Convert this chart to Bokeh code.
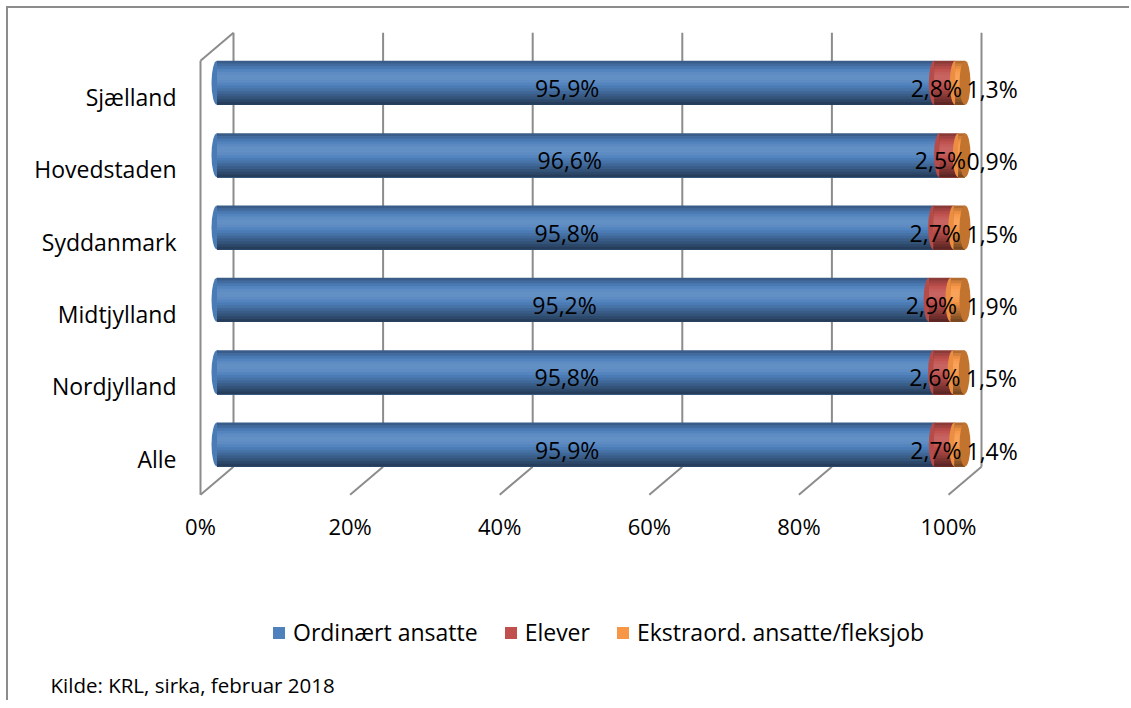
import numpy as np
from bokeh.plotting import figure
from bokeh.layouts import column
from bokeh.models import FixedTicker, Legend, LegendItem, Title
from bokeh.core.properties import value
from bokeh.embed import file_html
from bokeh.resources import INLINE

# ---------------- data ----------------
categories = ["Sjælland", "Hovedstaden", "Syddanmark", "Midtjylland", "Nordjylland", "Alle"]
ordinaert = [95.9, 96.6, 95.8, 95.2, 95.8, 95.9]
elever = [2.8, 2.5, 2.7, 2.9, 2.6, 2.7]
ekstra = [1.3, 0.9, 1.5, 1.9, 1.5, 1.4]
series_names = ["Ordinært ansatte", "Elever", "Ekstraord. ansatte/fleksjob"]
series_values = [ordinaert, elever, ekstra]
series_colors = ["#4F81BD", "#C0504D", "#F79646"]
cap_color = "#C2742F"
x_ticks = [0, 20, 40, 60, 80, 100]
x_tick_labels = ["0%", "20%", "40%", "60%", "80%", "100%"]
source_note = "Kilde: KRL, sirka, februar 2018"

# ---------------- geometry / style ----------------
FONT = "Open Sans"
PX_X = 7.48      # px per percent
PX_Y = 72.33     # px per category step
DX = 33 / PX_X   # depth offset (x) in data units
DY = 28 / PX_Y   # depth offset (y) in data units
MX, MY = DX / 2, DY / 2
BAR_H = 44 / PX_Y
ELL_W = 11 / PX_X
GRID = "#8C8C8C"
SHADES = [0.72, 0.84, 0.94, 1.02, 1.08, 1.11, 1.11, 1.08, 1.02, 0.95, 0.88, 0.8, 0.72, 0.64, 0.56, 0.48]

n = len(categories)
ypos = [n - 1 - i for i in range(n)]


def shade(hexc, f):
    r, g, b = (int(hexc[i:i + 2], 16) for i in (1, 3, 5))
    if f >= 1:
        t = f - 1
        r, g, b = (c + (255 - c) * t for c in (r, g, b))
    else:
        r, g, b = (c * f for c in (r, g, b))
    return "#%02x%02x%02x" % tuple(int(round(max(0, min(255, c)))) for c in (r, g, b))


W = 1121
p = figure(width=W, height=560, output_backend="svg", toolbar_location=None,
           x_range=(-12 / PX_X, 840 / PX_X), y_range=(-42 / PX_Y, 436 / PX_Y),
           min_border_left=180, min_border_right=W - 180 - 852, min_border_top=14,
           min_border_bottom=68)
p.xgrid.visible = False
p.ygrid.visible = False
p.outline_line_color = None

# ---------------- 3D walls / grid ----------------
y_lo, y_hi = -0.5, n - 0.5
p.segment(x0=[t + DX for t in x_ticks], y0=[y_lo + DY] * len(x_ticks),
          x1=[t + DX for t in x_ticks], y1=[y_hi + DY] * len(x_ticks), line_color=GRID, line_width=2)
p.segment(x0=[t + DX for t in x_ticks], y0=[y_lo + DY] * len(x_ticks),
          x1=x_ticks, y1=[y_lo] * len(x_ticks), line_color=GRID, line_width=2)
p.segment(x0=[x_ticks[0], x_ticks[0]], y0=[y_lo, y_hi], x1=[x_ticks[0], x_ticks[0] + DX],
          y1=[y_hi, y_hi + DY], line_color=GRID, line_width=2)

# ---------------- cylinders ----------------
base = [0.0] * n
for s, (vals, col) in enumerate(zip(series_values, series_colors)):
    lefts = [b + MX for b in base]
    rights = [b + v + MX for b, v in zip(base, vals)]
    ys = [y + MY for y in ypos]
    p.ellipse(x=lefts, y=ys, width=ELL_W, height=BAR_H, fill_color=shade(col, 0.95), line_color=None)
    band_h = BAR_H / len(SHADES)
    for k, f in enumerate(SHADES):
        top = [y + BAR_H / 2 - k * band_h for y in ys]
        bot = [y - BAR_H / 2 for y in ys]
        p.quad(left=lefts, right=rights, top=top, bottom=bot,
               fill_color=shade(col, f), line_color=None)
    base = [b + v for b, v in zip(base, vals)]

p.ellipse(x=[b + MX for b in base], y=[y + MY for y in ypos], width=ELL_W, height=BAR_H,
          fill_color=cap_color, line_color=None)

# ---------------- data labels ----------------
fmt = lambda v: ("%.1f%%" % v).replace(".", ",")
tb = [0.0] * n
for s, vals in enumerate(series_values):
    if s < 2:
        xs = [b + v / 2 for b, v in zip(tb, vals)]
        p.text(x=xs, y=ypos, text=[fmt(v) for v in vals], x_offset=8, y_offset=-9,
               text_align="center", text_baseline="middle", text_font=value(FONT),
               text_font_size="23px", text_color="#000000")
    else:
        ends = [b + v for b, v in zip(tb, vals)]
        p.text(x=ends, y=ypos, text=[fmt(v) for v in vals], x_offset=18, y_offset=-8,
               text_align="left", text_baseline="middle", text_font=value(FONT),
               text_font_size="23px", text_color="#000000")
    tb = [b + v for b, v in zip(tb, vals)]

# ---------------- axes ----------------
p.xaxis.ticker = FixedTicker(ticks=x_ticks)
p.xaxis.major_label_overrides = {t: l for t, l in zip(x_ticks, x_tick_labels)}
p.yaxis.ticker = FixedTicker(ticks=ypos)
p.yaxis.major_label_overrides = {y: c for y, c in zip(ypos, categories)}
for ax in (p.xaxis[0], p.yaxis[0]):
    ax.axis_line_color = None
    ax.major_tick_line_color = None
    ax.minor_tick_line_color = None
    ax.major_tick_out = 0
    ax.major_tick_in = 0
    ax.major_label_text_font = FONT
    ax.major_label_text_font_size = "22px"
    ax.major_label_text_color = "#000000"
p.yaxis.major_label_text_font_size = "23px"
p.xaxis.major_label_standoff = 10
p.yaxis.major_label_standoff = 12

# ---------------- legend + source (lower panel) ----------------
H2 = 132
p2 = figure(width=W, height=H2, output_backend="svg", toolbar_location=None,
            x_range=(0, 1), y_range=(0, 1), min_border=0)
p2.axis.visible = False
p2.grid.visible = False
p2.outline_line_color = None
leg_renderers = [p2.hbar(y=[0.5], right=[vals[-1]], height=0.5, fill_color=c, line_color=None,
                         visible=False)
                 for vals, c in zip(series_values, series_colors)]
items = [LegendItem(label=nm, renderers=[r]) for nm, r in zip(series_names, leg_renderers)]
legend = Legend(items=items, orientation="horizontal", location=(83, 18),
                border_line_color=None, background_fill_alpha=0, padding=0, margin=0,
                spacing=25, label_standoff=7, glyph_width=15, glyph_height=15,
                inactive_fill_alpha=0,
                label_text_font=FONT, label_text_font_size="23px", label_text_color="#000000")
p2.add_layout(legend)
p2.add_layout(Title(text=source_note, align="left", offset=-138, standoff=4,
                    text_font=FONT, text_font_size="20.5px", text_font_style="normal",
                    text_color="#000000"), "below")

layout = column(p, p2, spacing=0,
                styles={"margin-left": "6px", "margin-top": "6px",
                        "border-top": "2px solid #8C8C8C", "border-left": "2px solid #8C8C8C"})

open("out.html", "w").write(file_html(layout, INLINE))
